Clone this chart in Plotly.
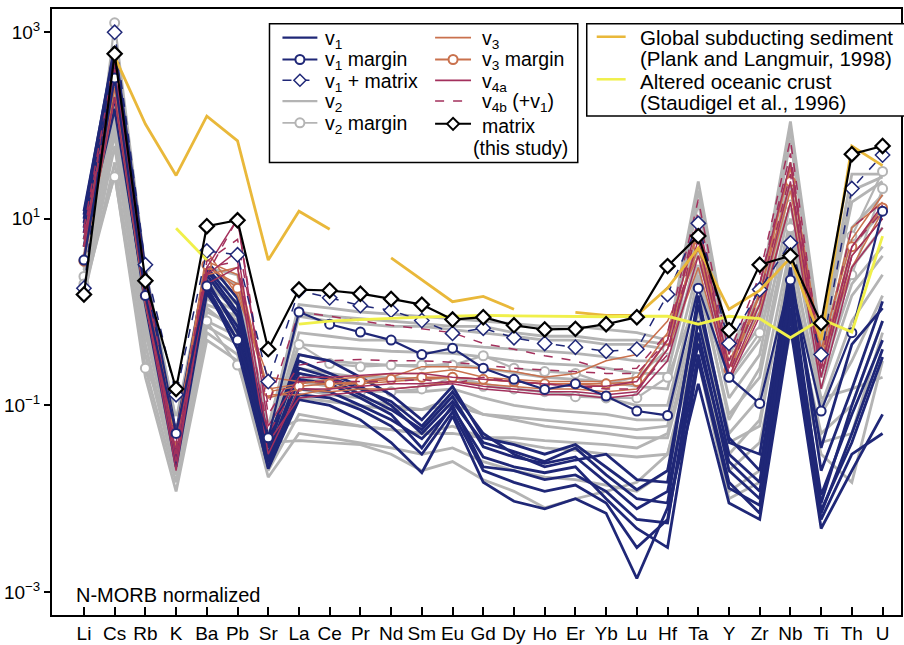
import plotly.graph_objects as go

elements = ["Li", "Cs", "Rb", "K", "Ba", "Pb", "Sr", "La", "Ce", "Pr", "Nd", "Sm", "Eu", "Gd",
            "Dy", "Ho", "Er", "Yb", "Lu", "Hf", "Ta", "Y", "Zr", "Nb", "Ti", "Th", "U"]
xpos = list(range(len(elements)))

# ---------------- data (N-MORB normalized) ----------------
matrix = [1.54, 583, 2.16, 0.15, 8.3, 9.6, 0.40, 1.74, 1.70, 1.57, 1.38, 1.2, 0.83, 0.88,
          0.72, 0.65, 0.66, 0.74, 0.88, 3.1, 6.5, 0.64, 3.2, 4.0, 0.76, 49, 60]
gloss = [None, 543, 103, 29, 125, 68, 3.6, 12, 7.7, None, 3.8, 2.2, 1.29, 1.47,
         1.07, None, 0.99, 0.92, 0.92, 1.8, 4.85, 1.07, 1.7, 3.8, 0.5, 60, 37]
aoc = [None, None, None, 7.9, 3.6, None, None, 0.74, 0.80, 0.83, 0.86, 0.88, 0.90, 0.92,
       0.91, 0.90, 0.89, 0.89, 0.90, 0.90, 0.74, 0.90, 0.85, 0.53, 0.84, 0.61, 6.5]

v1_margin = [3.6, 320, 1.5, 0.05, 1.9, 0.5, 0.045, 1.0, 0.74, 0.61, 0.5, 0.35, 0.41, 0.25,
             0.19, 0.148, 0.17, 0.126, 0.087, 0.078, 1.8, 0.2, 0.105, 2.2, 0.087, 0.6, 12]
v1_matrix = [1.8, 990, 3.2, 0.13, 4.5, 4.1, 0.18, 1.7, 1.42, 1.17, 1.04, 0.81, 0.59, 0.67,
             0.53, 0.46, 0.42, 0.38, 0.40, 1.54, 8.9, 0.46, 1.74, 5.5, 0.35, 21, 48]
v2_margin_a = [2.4, 1250, 3.0, 0.07, 2.0, 1.0, 0.06, 0.45, 0.28, 0.26, 0.27, 0.27, 0.27, 0.34,
               0.25, 0.23, 0.22, 0.17, 0.20, 0.4, 3.5, 0.35, 1.5, 14, 0.4, 6.5, 32]
v2_margin_b = [2.0, 28, 0.25, 0.05, 0.8, 0.27, 0.03, 0.2, 0.18, 0.14, 0.14, 0.15, 0.2, 0.16,
               0.15, 0.14, 0.124, 0.12, 0.12, 0.2, 1.5, 0.2, 0.6, 8, 0.3, 2.5, 21]
v3_margin = [3.5, 280, 1.5, 0.045, 3.2, 1.8, 0.14, 0.16, 0.17, 0.18, 0.19, 0.2, 0.2, 0.19,
             0.18, 0.17, 0.17, 0.17, 0.18, 0.5, 5, 0.24, 1.6, 25, 0.3, 5, 13]

v1_lines = [
    [12, 650, 2.5, 0.045, 3.0, 1.2, 0.04, 0.35, 0.30, 0.2, 0.13, 0.07, 0.16, 0.045, 0.038, 0.03, 0.038, 0.022, 0.0125, 0.02, 1.2, 0.045, 0.02, 2.5, 0.035, 0.45, 1.1],
    [9, 500, 2.0, 0.035, 2.5, 0.9, 0.03, 0.22, 0.19, 0.13, 0.09, 0.055, 0.125, 0.036, 0.028, 0.024, 0.028, 0.015, 0.0078, 0.012, 0.46, 0.025, 0.012, 1.4, 0.011, 0.08, 0.5],
    [7, 350, 1.6, 0.028, 2.0, 0.7, 0.025, 0.15, 0.14, 0.1, 0.07, 0.044, 0.094, 0.028, 0.022, 0.019, 0.022, 0.01, 0.0048, 0.003, 0.3, 0.013, 0.0085, 1.1, 0.0075, 0.04, 0.33],
    [5, 200, 1.2, 0.022, 1.6, 0.5, 0.021, 0.115, 0.1, 0.07, 0.04, 0.019, 0.077, 0.015, 0.0094, 0.0078, 0.01, 0.007, 0.0014, 0.008, 0.17, 0.009, 0.006, 0.7, 0.0048, 0.02, 0.08],
    [10, 600, 2.2, 0.04, 2.8, 1.0, 0.035, 0.3, 0.22, 0.16, 0.1, 0.05, 0.11, 0.04, 0.032, 0.025, 0.035, 0.018, 0.01, 0.009, 0.8, 0.03, 0.015, 2.0, 0.009, 0.1, 0.8],
    [8, 420, 1.8, 0.03, 2.2, 0.6, 0.028, 0.19, 0.17, 0.12, 0.08, 0.035, 0.1, 0.022, 0.02, 0.016, 0.018, 0.012, 0.006, 0.0055, 0.6, 0.02, 0.01, 1.6, 0.007, 0.05, 0.4],
    [11, 700, 2.8, 0.05, 3.5, 1.4, 0.045, 0.25, 0.2, 0.15, 0.11, 0.06, 0.14, 0.05, 0.03, 0.022, 0.026, 0.03, 0.016, 0.015, 1.5, 0.04, 0.03, 3.0, 0.02, 0.15, 1.3],
    [6, 150, 1.4, 0.025, 1.8, 0.4, 0.022, 0.13, 0.12, 0.09, 0.06, 0.03, 0.085, 0.02, 0.015, 0.012, 0.014, 0.009, 0.003, 0.006, 0.35, 0.015, 0.007, 0.9, 0.006, 0.03, 0.05],
]
v2_lines = [
    [4, 300, 2.0, 0.06, 2.5, 2.0, 0.055, 1.2, 1.1, 1.0, 0.95, 0.9, 0.85, 0.8, 0.75, 0.7, 0.7, 0.65, 0.6, 0.5, 25, 0.4, 1.5, 110, 0.5, 30, 30],
    [3.5, 250, 1.6, 0.05, 2.2, 1.6, 0.045, 0.9, 0.8, 0.75, 0.7, 0.7, 0.65, 0.6, 0.55, 0.5, 0.5, 0.45, 0.45, 0.4, 15, 0.3, 1.0, 70, 0.4, 15, 25],
    [3.0, 200, 1.3, 0.04, 1.8, 1.3, 0.04, 0.6, 0.55, 0.5, 0.5, 0.48, 0.45, 0.42, 0.4, 0.38, 0.36, 0.33, 0.3, 0.3, 8, 0.25, 0.7, 40, 0.3, 8, 18],
    [2.5, 150, 1.0, 0.035, 1.5, 1.0, 0.035, 0.45, 0.42, 0.4, 0.38, 0.37, 0.36, 0.33, 0.3, 0.28, 0.27, 0.25, 0.22, 0.22, 5, 0.18, 0.5, 25, 0.25, 5, 12],
    [2.2, 120, 0.8, 0.03, 1.2, 0.9, 0.03, 0.35, 0.3, 0.28, 0.27, 0.26, 0.28, 0.25, 0.22, 0.2, 0.19, 0.18, 0.16, 0.15, 3, 0.12, 0.35, 15, 0.2, 3, 8],
    [2.0, 100, 0.6, 0.025, 1.0, 0.7, 0.028, 0.25, 0.22, 0.2, 0.2, 0.19, 0.2, 0.17, 0.15, 0.14, 0.13, 0.12, 0.1, 0.1, 2, 0.08, 0.2, 8, 0.15, 1.5, 4],
    [1.8, 80, 0.45, 0.02, 0.8, 0.55, 0.025, 0.18, 0.16, 0.15, 0.14, 0.14, 0.15, 0.12, 0.1, 0.09, 0.085, 0.08, 0.07, 0.07, 1.2, 0.05, 0.12, 5, 0.1, 0.8, 2.5],
    [1.6, 60, 0.35, 0.018, 0.7, 0.45, 0.022, 0.12, 0.11, 0.1, 0.09, 0.09, 0.1, 0.08, 0.07, 0.06, 0.055, 0.05, 0.045, 0.045, 0.8, 0.03, 0.07, 3, 0.08, 0.3, 1.5],
    [1.5, 40, 0.25, 0.015, 0.6, 0.35, 0.02, 0.08, 0.07, 0.06, 0.055, 0.05, 0.06, 0.045, 0.04, 0.035, 0.033, 0.03, 0.028, 0.03, 0.5, 0.02, 0.04, 1.5, 0.05, 0.1, 0.8],
    [1.7, 30, 0.2, 0.012, 0.5, 0.3, 0.017, 0.05, 0.045, 0.04, 0.035, 0.03, 0.035, 0.025, 0.02, 0.017, 0.016, 0.014, 0.012, 0.02, 0.3, 0.01, 0.015, 0.6, 0.03, 0.015, 0.3],
    [5, 400, 2.5, 0.07, 3.0, 2.5, 0.06, 1.0, 0.9, 0.85, 0.8, 0.75, 0.7, 0.7, 0.6, 0.55, 0.55, 0.5, 0.5, 0.45, 20, 0.35, 1.2, 90, 0.45, 20, 28],
    [3, 180, 0.9, 0.045, 1.4, 0.8, 0.05, 0.07, 0.065, 0.06, 0.055, 0.05, 0.05, 0.045, 0.045, 0.042, 0.04, 0.038, 0.035, 0.05, 1.0, 0.04, 0.06, 4, 0.12, 0.15, 0.2],
    [2.8, 220, 1.5, 0.05, 2.0, 1.2, 0.04, 0.042, 0.04, 0.038, 0.03, 0.02, 0.025, 0.016, 0.012, 0.008, 0.01, 0.012, 0.015, 0.03, 0.6, 0.012, 0.02, 2, 0.04, 0.05, 0.6],
    [2.0, 90, 0.7, 0.03, 1.1, 0.6, 0.03, 0.15, 0.13, 0.12, 0.1, 0.09, 0.12, 0.08, 0.075, 0.07, 0.065, 0.06, 0.055, 0.06, 2.5, 0.07, 0.25, 10, 0.2, 2, 5],
]
v3_lines = [
    [6, 350, 1.8, 0.05, 3.5, 2.5, 0.13, 0.13, 0.15, 0.18, 0.2, 0.26, 0.26, 0.25, 0.23, 0.2, 0.22, 0.3, 0.35, 0.8, 4, 0.3, 1.2, 20, 0.3, 3, 12],
    [4, 250, 1.4, 0.04, 4.5, 1.5, 0.2, 0.18, 0.17, 0.17, 0.18, 0.19, 0.2, 0.19, 0.18, 0.17, 0.17, 0.16, 0.17, 0.5, 6, 0.25, 2, 35, 0.4, 6, 18],
    [5, 300, 1.6, 0.045, 2.5, 3.0, 0.12, 0.15, 0.14, 0.15, 0.15, 0.16, 0.18, 0.17, 0.16, 0.15, 0.15, 0.14, 0.15, 0.4, 3, 0.2, 1.0, 15, 0.25, 4, 10],
    [3.5, 200, 1.2, 0.035, 3.0, 2.0, 0.15, 0.17, 0.19, 0.2, 0.22, 0.22, 0.24, 0.2, 0.19, 0.18, 0.18, 0.18, 0.2, 0.6, 8, 0.22, 1.5, 40, 0.35, 8, 15],
]
v4a_lines = [
    [5, 400, 2.0, 0.03, 3.0, 10, 0.06, 0.2, 0.2, 0.21, 0.22, 0.22, 0.2, 0.19, 0.18, 0.17, 0.16, 0.16, 0.18, 0.5, 10, 0.25, 2.0, 40, 0.25, 5, 14],
    [6, 300, 1.6, 0.025, 2.0, 3.0, 0.03, 0.15, 0.15, 0.16, 0.17, 0.17, 0.18, 0.16, 0.15, 0.14, 0.14, 0.13, 0.14, 0.4, 6, 0.2, 1.2, 25, 0.2, 4, 10],
    [4, 200, 1.3, 0.02, 2.5, 4.5, 0.04, 0.12, 0.13, 0.14, 0.15, 0.16, 0.17, 0.15, 0.14, 0.13, 0.13, 0.12, 0.13, 0.3, 4, 0.18, 0.9, 15, 0.15, 3, 8],
]
v4b_lines = [
    [8, 500, 2.5, 0.04, 3.5, 6, 0.1, 1.0, 0.9, 0.8, 0.72, 0.66, 0.6, 0.46, 0.4, 0.34, 0.3, 0.24, 0.25, 0.6, 16, 0.35, 2.5, 70, 0.3, 8, 15],
    [5, 350, 2.0, 0.03, 2.5, 10, 0.08, 0.27, 0.3, 0.31, 0.3, 0.3, 0.29, 0.27, 0.25, 0.24, 0.23, 0.22, 0.22, 0.5, 12, 0.3, 2, 50, 0.25, 5, 12],
    [7, 450, 1.8, 0.035, 3.0, 3.5, 0.05, 0.18, 0.18, 0.18, 0.18, 0.19, 0.17, 0.2, 0.18, 0.17, 0.16, 0.15, 0.15, 0.35, 9, 0.22, 1.5, 30, 0.2, 4, 10],
]

# legend labels
legend_col1 = ["v<sub>1</sub>", "v<sub>1</sub> margin", "v<sub>1</sub> + matrix", "v<sub>2</sub>", "v<sub>2</sub> margin"]
legend_col2 = ["v<sub>3</sub>", "v<sub>3</sub> margin", "v<sub>4a</sub>", "v<sub>4b</sub> (+v<sub>1</sub>)", "matrix"]
legend_ref = ["Global subducting sediment", "(Plank and Langmuir, 1998)",
              "Altered oceanic crust", "(Staudigel et al., 1996)"]

# ---------------- styles ----------------
NAVY = "#1f2777"
GRAY = "#b4b4b4"
SIENNA = "#c9714d"
MAROON = "#a3305c"
GOLD = "#e9b83a"
YELLOW = "#f0f04a"
FONT = "Liberation Sans, Arial, sans-serif"

fig = go.Figure()


def add_group(lines, color, width, dash="solid"):
    for ys in lines:
        fig.add_trace(go.Scatter(x=xpos, y=ys, mode="lines", showlegend=False, hoverinfo="skip",
                                 line=dict(color=color, width=width, dash=dash)))


def add_marked(ys, color, width, symbol, msize, dash="solid", mwidth=2.0):
    fig.add_trace(go.Scatter(x=xpos, y=ys, mode="lines+markers", showlegend=False,
                             line=dict(color=color, width=width, dash=dash),
                             marker=dict(symbol=symbol, size=msize, color="white",
                                         line=dict(color=color, width=mwidth))))


add_group(v2_lines, GRAY, 2.8)
add_marked(v2_margin_a, GRAY, 2.2, "circle", 9)
add_marked(v2_margin_b, GRAY, 2.2, "circle", 9)
add_group(v1_lines, NAVY, 2.8)
add_group(v3_lines, SIENNA, 1.5)
add_marked(v3_margin, SIENNA, 1.5, "circle", 9)
add_group(v4a_lines, MAROON, 1.5)
add_group(v4b_lines, MAROON, 1.5, dash="dash")
add_marked(v1_margin, NAVY, 2.2, "circle", 9)
add_marked(v1_matrix, NAVY, 1.5, "diamond", 11, dash="dash", mwidth=1.5)
fig.add_trace(go.Scatter(x=xpos, y=gloss, mode="lines", showlegend=False, connectgaps=False,
                         line=dict(color=GOLD, width=2.8)))
fig.add_trace(go.Scatter(x=xpos, y=aoc, mode="lines", showlegend=False, connectgaps=False,
                         line=dict(color=YELLOW, width=2.8)))
add_marked(matrix, "black", 2.2, "diamond", 11, mwidth=2.2)

# ---------------- manual legend (layout shapes + annotations) ----------------
L, T, W, H = 52, 9, 851, 612


def px(x):
    return (x - L) / W


def py(y):
    return 1 - (y - T) / H


shapes = [
    dict(type="rect", xref="paper", yref="paper", x0=px(270), x1=px(579), y0=py(164), y1=py(24),
         line=dict(color="black", width=1.5), fillcolor="white", layer="above"),
    dict(type="rect", xref="paper", yref="paper", x0=px(588), x1=px(912), y0=py(117), y1=py(24),
         line=dict(color="black", width=1.5), fillcolor="white", layer="above"),
]
annotations = []


def sample(x0, x1, yc, color, width, dash="solid", marker=None, mcolor=None, mwidth=2.0):
    shapes.append(dict(type="line", xref="paper", yref="paper", x0=px(x0), x1=px(x1),
                       y0=py(yc), y1=py(yc), line=dict(color=color, width=width, dash=dash),
                       layer="above"))
    xm = px((x0 + x1) / 2)
    if marker == "circle":
        shapes.append(dict(type="circle", xref="paper", yref="paper", xsizemode="pixel",
                           ysizemode="pixel", xanchor=xm, yanchor=py(yc), x0=-4.5, x1=4.5,
                           y0=-4.5, y1=4.5, fillcolor="white",
                           line=dict(color=mcolor or color, width=mwidth), layer="above"))
    elif marker == "diamond":
        shapes.append(dict(type="path", xref="paper", yref="paper", xsizemode="pixel",
                           ysizemode="pixel", xanchor=xm, yanchor=py(yc),
                           path="M -6 0 L 0 6 L 6 0 L 0 -6 Z", fillcolor="white",
                           line=dict(color=mcolor or color, width=mwidth), layer="above"))


def label(x, yc, text, size=19.5):
    annotations.append(dict(text=text, xref="paper", yref="paper", x=px(x), y=py(yc),
                            xanchor="left", yanchor="middle", showarrow=False,
                            font=dict(size=size, family=FONT, color="black")))


rows = [38, 60, 81, 102, 125]
label_rows = [40, 61.5, 83, 103.5, 127.5]
c1a, c1b, t1 = 283, 318, 324
c2a, c2b, t2 = 436, 472, 481
sample(c1a, c1b, rows[0], NAVY, 2.2)
sample(c1a, c1b, rows[1], NAVY, 1.8, marker="circle")
sample(c1a, c1b, rows[2], NAVY, 1.5, dash="dash", marker="diamond", mwidth=1.5)
sample(c1a, c1b, rows[3], GRAY, 2.2)
sample(c1a, c1b, 124, GRAY, 1.8, marker="circle")
for r, t in zip(label_rows[:4], legend_col1[:4]):
    label(t1, r, t)
label(t1, 126, legend_col1[4])
sample(c2a, c2b, rows[0], SIENNA, 1.8)
sample(c2a, c2b, rows[1], SIENNA, 1.8, marker="circle")
sample(c2a, c2b, rows[2], MAROON, 1.8)
sample(c2a, c2b, rows[3], MAROON, 1.5, dash="dash")
sample(c2a, c2b, rows[4], "black", 2.0, marker="diamond")
for r, t in zip(label_rows, legend_col2):
    label(t2, r, t)
label(472, 149, "(this study)")

sample(598, 627, 37, GOLD, 2.5)
sample(598, 627, 80, YELLOW, 2.5)
for yc, t in zip([38, 59, 82, 103], legend_ref):
    label(639, yc, t, size=20.5)

annotations.append(dict(text="N-MORB normalized", xref="paper", yref="paper", x=px(74), y=py(601),
                        xanchor="left", yanchor="middle", showarrow=False,
                        font=dict(size=20, family=FONT, color="black")))

fig.update_layout(
    width=904, height=645,
    margin=dict(l=52, r=1, t=9, b=24),
    paper_bgcolor="white", plot_bgcolor="white",
    font=dict(family=FONT, size=18, color="black"),
    showlegend=False,
    xaxis=dict(range=[-1.04, 26.6], tickmode="array", tickvals=xpos, ticktext=elements,
               ticks="inside", ticklen=8, tickwidth=1.5, tickcolor="black",
               showgrid=False, zeroline=False, showline=True, linecolor="black", linewidth=2,
               mirror=True, tickfont=dict(size=19)),
    yaxis=dict(type="log", range=[-3.245, 3.245], tickmode="array",
               tickvals=[1e-3, 1e-1, 1e1, 1e3],
               ticktext=["10<sup>−3</sup>", "10<sup>−1</sup>", "10<sup>1</sup>", "10<sup>3</sup>"],
               ticks="outside", ticklen=6, tickwidth=1.5, tickcolor="black",
               showgrid=False, zeroline=False, showline=True, linecolor="black", linewidth=2,
               mirror=True, tickfont=dict(size=19)),
    shapes=shapes,
    annotations=annotations,
)

fig.write_html("out.html")
